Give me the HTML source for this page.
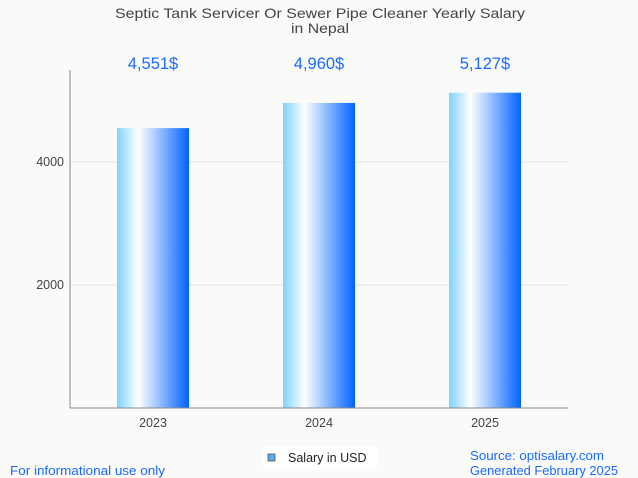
<!DOCTYPE html>
<html><head><meta charset="utf-8"><style>
html,body{margin:0;padding:0;background:#fafaf8;}
svg{display:block;font-family:"Liberation Sans",Arial,sans-serif;}
</style></head><body>
<svg id="c" width="638" height="478" viewBox="0 0 638 478">
<defs>
<linearGradient id="bg" x1="0" x2="1" y1="0" y2="0">
<stop offset="0" stop-color="#7fd3ff"/>
<stop offset="0.3" stop-color="#ffffff"/>
<stop offset="1" stop-color="#0063ff"/>
</linearGradient>
</defs>
<rect width="638" height="478" fill="#fafaf8"/>
<text x="320" y="18" text-anchor="middle" font-size="14" fill="#444" textLength="410" lengthAdjust="spacingAndGlyphs">Septic Tank Servicer Or Sewer Pipe Cleaner Yearly Salary</text>
<text x="320" y="33" text-anchor="middle" font-size="14" fill="#444" textLength="58" lengthAdjust="spacingAndGlyphs">in Nepal</text>
<g id="grid"></g>
<g id="bars"></g>
<line x1="70" y1="70" x2="70" y2="408" stroke="#888" stroke-width="1"/>
<line x1="70" y1="408" x2="568" y2="408" stroke="#888" stroke-width="1"/>
<g>
<rect x="263" y="446" width="114" height="23" fill="#fff"/>
<rect x="268" y="454" width="7" height="7" fill="#5aa9f0" stroke="#555" stroke-width="0.8"/>
<text x="288" y="462" font-size="12.5" fill="#222">Salary in USD</text>
</g>
<text x="10" y="475" font-size="12.5" fill="#1a6bff" textLength="155" lengthAdjust="spacingAndGlyphs">For informational use only</text>
<text x="470" y="460" font-size="12.5" fill="#1a6bff" textLength="134" lengthAdjust="spacingAndGlyphs">Source: optisalary.com</text>
<text x="470" y="475" font-size="12.5" fill="#1a6bff" textLength="148" lengthAdjust="spacingAndGlyphs">Generated February 2025</text>
</svg>
<script>
const categories = ["2023","2024","2025"];
const values = [4551,4960,5127];
const valueLabels = ["4,551$","4,960$","5,127$"];
const yTicks = [2000,4000];
const yTickLabels = ["2000","4000"];

const NS="http://www.w3.org/2000/svg";
const plotL=70, plotR=568, y0=408, pxPerUnit=246/4000;
const band=(plotR-plotL)/categories.length, barW=72;
function yScale(v){return y0 - v*pxPerUnit;}
function xCenter(i){return plotL + band*(i+0.5);}
function mk(tag,attrs){const e=document.createElementNS(NS,tag);for(const k in attrs)e.setAttribute(k,attrs[k]);return e;}
const grid=document.getElementById('grid'), bars=document.getElementById('bars');
yTicks.forEach((t,i)=>{
  const l=mk('line',{x1:plotL,x2:plotR,y1:yScale(t),y2:yScale(t),stroke:'#e2e2e2','stroke-width':1});
  
  
  grid.appendChild(l);
  const tx=mk('text',{x:plotL-6,y:yScale(t)+4,'text-anchor':'end','font-size':12.5,fill:'#444'});
  tx.textContent=yTickLabels[i];
  
  
  grid.appendChild(tx);
});
categories.forEach((c,i)=>{
  const cx=xCenter(i), top=yScale(values[i]);
  const r=mk('rect',{x:cx-barW/2,y:top,width:barW,height:y0-top,fill:'url(#bg)'});
  
  
  bars.appendChild(r);
  const vl=mk('text',{x:cx,y:69,'text-anchor':'middle','font-size':16.5,fill:'#1a6bff'});
  vl.textContent=valueLabels[i];
  
  
  bars.appendChild(vl);
  const xl=mk('text',{x:cx,y:427,'text-anchor':'middle','font-size':12.5,fill:'#444'});
  xl.textContent=c;
  
  
  bars.appendChild(xl);
});
</script>
</body></html>
